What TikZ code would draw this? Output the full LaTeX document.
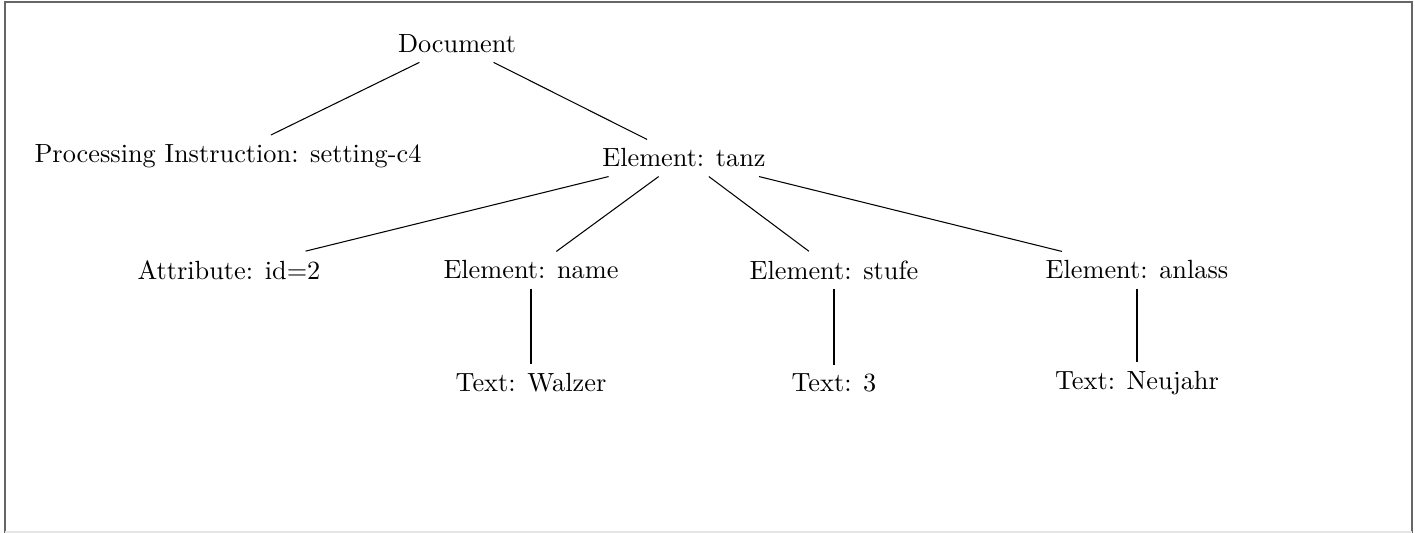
\documentclass[tikz,border=0pt]{standalone}
\begin{document}
\begin{tikzpicture}[x=0.3802pt,y=-0.3802pt,
  tn/.style={inner sep=0.333em},
  edge/.style={draw=black,line width=0.4pt}]
\useasboundingbox (0,0) rectangle (1415,533);
\draw[draw=black!60,line width=0.8pt] (5,533) -- (5,2) -- (1412,2) -- (1412,533);
\draw[draw=black!10,line width=0.6pt] (5,532) -- (1412,532);
\node[tn] (doc) at (457,44) {Document};
\node[tn] (pi) at (228,156) {Processing Instruction: setting-c4};
\node[tn] (tanz) at (684,158) {Element: tanz};
\node[tn] (attr) at (229,270) {Attribute: id=2};
\node[tn] (name) at (531,270) {Element: name};
\node[tn] (stufe) at (834,270) {Element: stufe};
\node[tn] (anlass) at (1137,270) {Element: anlass};
\node[tn] (walzer) at (531,383) {Text: Walzer};
\node[tn] (drei) at (834,383) {Text: 3};
\node[tn] (neujahr) at (1137,383) {Text: Neujahr};
\draw[edge] (doc) -- (pi);
\draw[edge] (doc) -- (tanz);
\draw[edge] (tanz) -- (attr);
\draw[edge] (tanz) -- (name);
\draw[edge] (tanz) -- (stufe);
\draw[edge] (tanz) -- (anlass);
\draw[edge] (name) -- (walzer);
\draw[edge] (stufe) -- (drei);
\draw[edge] (anlass) -- (neujahr);
\end{tikzpicture}
\end{document}
